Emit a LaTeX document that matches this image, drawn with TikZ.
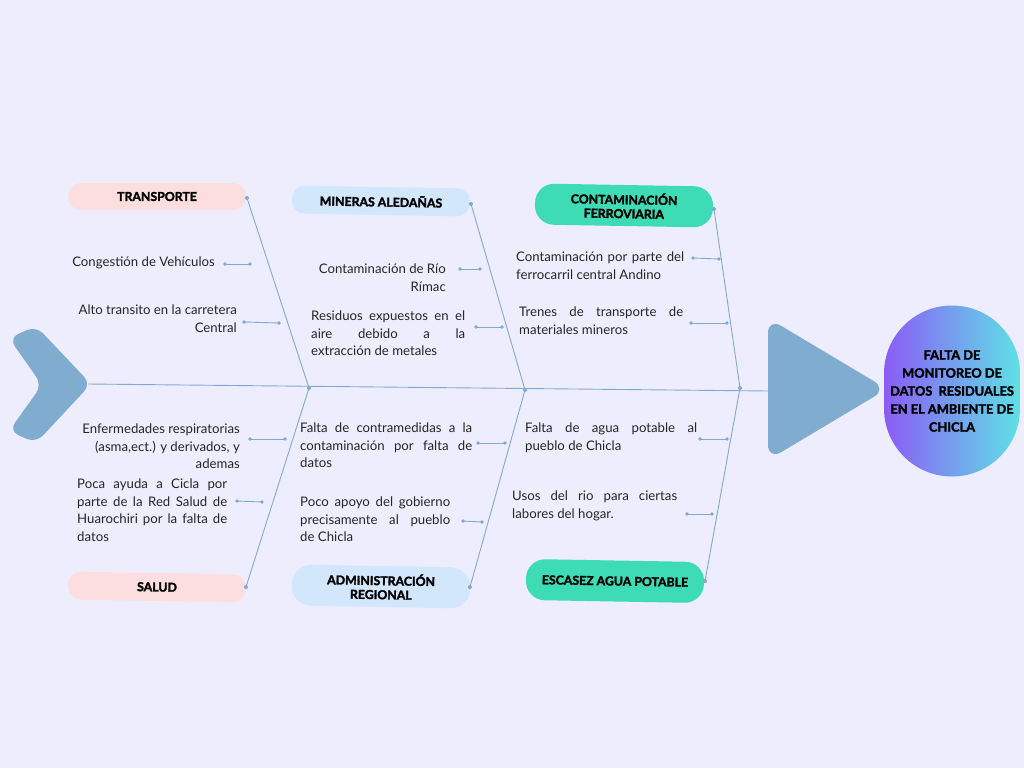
\documentclass[tikz,border=0pt]{standalone}
\usepackage{fontspec}
\setmainfont{Lato}
\newfontfamily\heavyfont[FakeBold=2.2]{Lato Bold}
\definecolor{bg}{HTML}{EEEDFE}
\definecolor{fish}{HTML}{80ACCF}
\definecolor{bone}{HTML}{7FA9D2}
\definecolor{pinkbox}{HTML}{FDDEDF}
\definecolor{bluebox}{HTML}{D2E7FC}
\definecolor{greenbox}{HTML}{3DDCB5}
\definecolor{gradL}{HTML}{8B5CF6}
\definecolor{gradR}{HTML}{5FE1E6}
\begin{document}
\begin{tikzpicture}[x=1pt,y=-1pt,
  cat/.style={rounded corners=13pt, minimum width=178pt, minimum height=27pt, inner sep=0pt,
    font=\fontsize{12.3}{14}\selectfont\heavyfont, align=center, text=black},
  cattall/.style={cat, minimum height=40pt, rounded corners=19pt},
  txt/.style={inner sep=0pt, font=\fontsize{13.2}{17.7}\selectfont, text=black!85},
  boneline/.style={draw=bone, line width=0.9pt},
  subline/.style={draw=bone, line width=0.9pt},
  bdot/.style={circle, fill=bone, inner sep=0pt, minimum size=4pt}
]
\fill[bg] (0,0) rectangle (1024,768);
\useasboundingbox (0,0) rectangle (1024,768);

% fish tail and head
\fill[fish, rounded corners=10pt] (9,338) -- (36,326) -- (91,384) -- (36,443) -- (9,431) -- (42,385) -- cycle;
\fill[fish, rounded corners=15pt] (768,318) -- (887,389) -- (768,460) -- cycle;
\coordinate (tailtip) at (88,384);
\coordinate (headbase) at (768,391);

% head
\node[rounded corners=68pt, minimum width=136pt, minimum height=171pt, inner sep=0pt,
  left color=gradL, right color=gradR, align=center,
  font=\fontsize{12.8}{18}\selectfont\heavyfont, text=black] (head) at (952,391)
  {FALTA DE\\MONITOREO DE\\DATOS\ \ RESIDUALES\\EN EL AMBIENTE DE\\CHICLA};

% spine
\draw[boneline] (tailtip) -- (headbase);

% joints
\coordinate (j1) at (309,388);
\coordinate (j2) at (525,390);
\coordinate (j3) at (740,388);

% categories
\node[cat, fill=pinkbox] (transporte) at (157,196.5) {TRANSPORTE};
\node[cat, fill=bluebox, minimum height=28pt, rotate=-1] (mineras) at (381,201) {MINERAS ALEDAÑAS};
\node[cattall, fill=greenbox, minimum height=41pt, rotate=-1] (ferro) at (624,205.5) {CONTAMINACIÓN\\FERROVIARIA};
\node[cat, fill=pinkbox, minimum height=28pt, rotate=-1] (salud) at (157,587) {SALUD};
\node[cattall, fill=bluebox, minimum height=41pt, rotate=-1] (admin) at (381,586.5) {ADMINISTRACIÓN\\REGIONAL};
\node[cattall, fill=greenbox, minimum height=41pt, rotate=-1] (escasez) at (615,581) {ESCASEZ AGUA POTABLE};

% bones
\coordinate (b1) at (247,198);
\coordinate (b2) at (471,204);
\coordinate (b3) at (714,209);
\coordinate (b4) at (246,587);
\coordinate (b5) at (470,587);
\coordinate (b6) at (705,581);
\draw[boneline] (b1) -- (j1);
\draw[boneline] (b2) -- (j2);
\draw[boneline] (b3) -- (j3);
\draw[boneline] (b4) -- (j1);
\draw[boneline] (b5) -- (j2);
\draw[boneline] (b6) -- (j3);
\foreach \p in {b1,b2,b3,b4,b5,b6,j1,j2,j3} \node[bdot] at (\p) {};

% sub lines
\foreach \n/\ax/\ay/\bx/\by in {1/225/264/250/264, 2/244/322/279/323, 3/460/269/480/269, 4/476/327/502/327,
  5/693/258/719/259, 6/691/323/727/323, 7/250/439/285/439, 8/237/501/262/502,
  9/478/443/505/443, 10/463/521/482/522, 11/700/439/727/439, 12/687/514/712/514}{
  \coordinate (s\n a) at (\ax,\ay);
  \coordinate (s\n b) at (\bx,\by);
  \draw[subline] (s\n a) -- (s\n b);
  \node[bdot, minimum size=3.6pt] at (s\n a) {};
  \node[bdot, minimum size=3.6pt] at (s\n b) {};
}

% texts
\node[txt, anchor=north east, align=right] (t1) at (215,254) {\strut Congestión de Vehículos};
\node[txt, anchor=north east, align=right] (t2) at (237,302) {\strut Alto transito en la carretera\\Central};
\node[txt, anchor=north east, align=right] (t3) at (446,261) {\strut Contaminación de Río\\Rímac};
\node[txt, anchor=north west, align=left] (t4) at (311,308)
  {\strut\makebox[154pt][s]{Residuos expuestos en el}\\\makebox[154pt][s]{aire debido a la}\\extracción de metales};
\node[txt, anchor=north west, align=left] (t5) at (516,249)
  {\strut\makebox[168pt][s]{Contaminación por parte del}\\ferrocarril central Andino};
\node[txt, anchor=north west, align=left] (t6) at (519,304)
  {\strut\makebox[164pt][s]{Trenes de transporte de}\\materiales mineros};
\node[txt, anchor=north east, align=right] (t7) at (240,421)
  {\strut Enfermedades respiratorias\\(asma,ect.) y derivados, y\\ademas};
\node[txt, anchor=north west, align=left] (t8) at (77,476)
  {\strut\makebox[150pt][s]{Poca ayuda a Cicla por}\\\makebox[150pt][s]{parte de la Red Salud de}\\\makebox[150pt][s]{Huarochiri por la falta de}\\datos};
\node[txt, anchor=north west, align=left] (t9) at (300,420)
  {\strut\makebox[172pt][s]{Falta de contramedidas a la}\\\makebox[172pt][s]{contaminación por falta de}\\datos};
\node[txt, anchor=north west, align=left] (t10) at (300,494)
  {\strut\makebox[150pt][s]{Poco apoyo del gobierno}\\\makebox[150pt][s]{precisamente al pueblo}\\de Chicla};
\node[txt, anchor=north west, align=left] (t11) at (525,420)
  {\strut\makebox[172pt][s]{Falta de agua potable al}\\pueblo de Chicla};
\node[txt, anchor=north west, align=left] (t12) at (512,488)
  {\strut\makebox[165pt][s]{Usos del rio para ciertas}\\labores del hogar.};
\end{tikzpicture}
\end{document}
